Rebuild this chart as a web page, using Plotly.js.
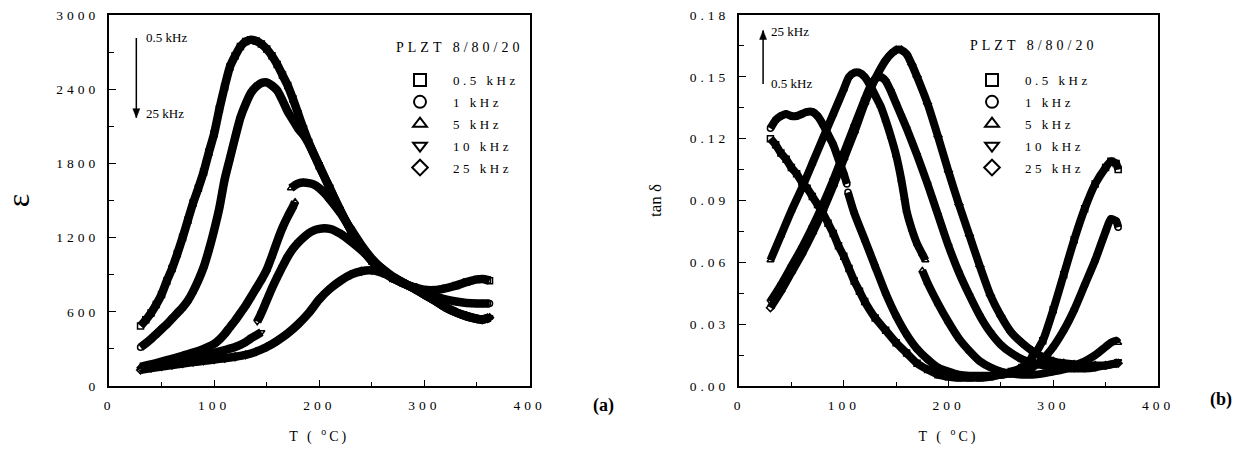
<!DOCTYPE html>
<html>
<head>
<meta charset="utf-8">
<script src="https://cdn.plot.ly/plotly-3.0.1.min.js"></script>
<style>
  html, body { margin: 0; padding: 0; background: #fff; }
  #chart { width: 1247px; height: 450px; }
  .xtick text, .x2tick text, .ytick text, .y2tick text { letter-spacing: 4px; }
  text[class^="legend"] { letter-spacing: 3.5px !important; }
  .xtitle, .x2title { letter-spacing: 3px; }
  .annotation[data-index="0"] text, .annotation[data-index="1"] text { letter-spacing: 4px; }
</style>
</head>
<body>
<div id="chart"></div>
<script>
// ---------- DATA ----------
const seriesNames = ['0.5 kHz', '1 kHz', '5 kHz', '10 kHz', '25 kHz'];
const seriesSymbols = ['square-open', 'circle-open', 'triangle-up-open', 'triangle-down-open', 'diamond-open'];

// (a) dielectric constant vs T
const epsT05 = [30,35,40,45,50,55,60,65,70,75,80,85,90,95,100,105,110,115,120,125,130,135,140,145,150,155,160,165,170,175,180,185,190,200,210,220,230,240,250,260,270,280,290,300,310,320,330,340,350,355,360,362];
const eps05  = [485,535,590,660,740,850,950,1070,1200,1340,1480,1600,1730,1890,2040,2240,2420,2580,2670,2745,2785,2800,2790,2765,2725,2670,2600,2515,2430,2320,2200,2080,1970,1780,1600,1420,1260,1120,1010,930,870,830,800,778,776,790,812,840,862,866,858,852];

const epsT1 = [30,35,40,45,50,55,60,65,70,75,80,85,90,95,100,105,110,115,120,125,130,135,140,145,150,155,160,165,170,175,180,185,190,200,210,220,230,240,250,260,270,280,290,300,310,320,330,340,350,355,360,362];
const eps1  = [313,345,380,420,460,500,545,590,635,690,765,855,960,1100,1260,1440,1670,1840,2010,2170,2280,2370,2420,2450,2455,2430,2390,2310,2220,2150,2080,2030,1960,1780,1600,1420,1260,1120,1010,930,870,830,792,755,725,700,683,672,668,668,668,668];

const epsT5 = [30,40,50,60,70,80,90,100,105,110,115,120,125,130,135,140,145,150,155,160,165,170,175,177,null,173,177,180,185,190,195,200,205,210,220,230,240,250,260,270,280,290,300,310,320,330,340,350,355,360,362];
const eps5  = [155,175,197,220,245,270,300,340,375,420,475,530,590,650,720,790,860,940,1050,1170,1280,1370,1450,1490,null,1600,1625,1638,1645,1640,1628,1600,1560,1510,1400,1270,1140,1030,945,880,830,790,740,690,635,595,563,543,538,548,555];

const epsT10 = [30,40,50,60,70,80,90,100,110,120,130,135,140,145,null,141,145,150,155,160,165,170,175,180,185,190,195,200,205,210,215,220,230,240,250,260,270,280,290,300,310,320,330,340,350,355,360,362];
const eps10  = [140,158,176,195,213,232,250,268,290,315,355,385,410,435,null,520,590,690,790,880,965,1045,1110,1160,1200,1235,1258,1270,1275,1270,1255,1232,1170,1100,1020,950,885,835,788,740,690,637,596,565,544,538,549,556];

const epsT25 = [30,40,50,60,70,80,90,100,110,120,130,140,150,160,170,180,190,200,210,220,230,240,250,260,270,280,290,300,310,320,330,340,350,355,360,362];
const eps25  = [130,145,158,170,182,193,204,214,225,237,252,278,315,365,425,500,590,700,785,850,900,928,935,915,880,835,790,740,690,640,598,567,543,536,546,553];

// (b) loss tangent vs T
const tanT05 = [30,35,40,45,50,55,60,65,70,75,80,85,90,95,100,105,110,115,120,130,140,150,160,170,180,190,200,210,220,230,240,250,260,270,280,290,300,310,320,330,340,350,355,360,362];
const tan05  = [0.120,0.117,0.113,0.110,0.106,0.103,0.099,0.096,0.092,0.088,0.084,0.079,0.074,0.068,0.063,0.057,0.051,0.046,0.041,0.033,0.027,0.021,0.016,0.011,0.008,0.0055,0.0045,0.004,0.004,0.004,0.0045,0.0055,0.007,0.009,0.014,0.022,0.037,0.054,0.071,0.086,0.098,0.106,0.109,0.108,0.105];

const tanT1 = [30,35,40,45,50,55,60,65,70,75,80,85,90,95,100,103,null,104,110,120,130,140,150,160,170,180,190,200,210,220,230,240,250,260,270,280,290,300,310,320,330,340,350,355,360,362];
const tan1  = [0.125,0.129,0.131,0.132,0.131,0.131,0.132,0.133,0.133,0.131,0.127,0.122,0.117,0.110,0.103,0.098,null,0.094,0.084,0.071,0.058,0.045,0.034,0.025,0.018,0.013,0.009,0.007,0.0055,0.005,0.005,0.005,0.0055,0.006,0.007,0.009,0.013,0.019,0.027,0.037,0.049,0.061,0.075,0.081,0.080,0.077];

const tanT5 = [30,40,50,60,70,80,90,100,105,110,115,120,125,130,135,140,145,150,155,158,160,165,170,175,178,null,175,180,190,200,210,220,230,240,250,260,270,280,290,300,310,320,330,340,350,355,360,362];
const tan5  = [0.061,0.073,0.085,0.096,0.108,0.120,0.132,0.144,0.150,0.152,0.152,0.150,0.146,0.141,0.136,0.129,0.121,0.112,0.100,0.091,0.085,0.076,0.069,0.064,0.061,null,0.056,0.050,0.040,0.031,0.023,0.017,0.012,0.009,0.007,0.006,0.0055,0.0055,0.006,0.007,0.008,0.010,0.012,0.015,0.019,0.021,0.022,0.021];

const tanT10 = [30,40,50,60,70,80,90,100,110,120,125,130,135,140,145,150,155,160,170,180,190,200,210,220,230,240,250,260,270,280,290,300,310,320,330,340,350,360,362];
const tan10  = [0.041,0.049,0.058,0.067,0.077,0.088,0.100,0.113,0.126,0.139,0.145,0.149,0.150,0.148,0.143,0.137,0.131,0.125,0.112,0.098,0.083,0.068,0.055,0.044,0.034,0.026,0.020,0.016,0.013,0.011,0.010,0.009,0.0085,0.0085,0.0085,0.009,0.010,0.011,0.012];

const tanT25 = [30,40,50,60,70,80,90,100,110,120,130,140,145,150,155,160,165,170,180,190,200,210,220,230,240,250,260,270,280,290,300,310,320,330,340,350,360,362];
const tan25  = [0.038,0.046,0.055,0.064,0.074,0.085,0.097,0.110,0.123,0.137,0.149,0.158,0.161,0.163,0.163,0.161,0.156,0.150,0.137,0.121,0.104,0.088,0.073,0.058,0.044,0.034,0.026,0.021,0.017,0.014,0.012,0.011,0.0105,0.010,0.010,0.010,0.011,0.011];

const xTicksT = [0, 100, 200, 300, 400];
const epsTicks = [0, 600, 1200, 1800, 2400, 3000];
const tanTicks = [0, 0.03, 0.06, 0.09, 0.12, 0.15, 0.18];
const sampleLabel = 'PLZT 8/80/20';
const arrowLabelsA = ['0.5 kHz', '25 kHz'];
const arrowLabelsB = ['25 kHz', '0.5 kHz'];
const panelLabels = ['(a)', '(b)'];

// ---------- BUILD ----------
const FONT = 'Liberation Serif, Times New Roman, serif';
const epsX = [epsT05, epsT1, epsT5, epsT10, epsT25];
const epsY = [eps05, eps1, eps5, eps10, eps25];
const tanX = [tanT05, tanT1, tanT5, tanT10, tanT25];
const tanY = [tan05, tan1, tan5, tan10, tan25];

const traces = [];
function addSeries(xs, ys, i, xa, ya, leg, lw) {
  traces.push({
    x: xs, y: ys, xaxis: xa, yaxis: ya, type: 'scatter', mode: 'lines',
    line: { color: '#000', width: lw, shape: 'spline', smoothing: 0.6 },
    connectgaps: false, showlegend: false, hoverinfo: 'skip'
  });
  traces.push({
    x: xs, y: ys, xaxis: xa, yaxis: ya, type: 'scatter', mode: 'markers',
    name: seriesNames[i], legend: leg, legendgroup: leg + i,
    marker: { symbol: seriesSymbols[i], size: 6, color: '#000', line: { width: 1.5, color: '#000' } }
  });
}
for (let i = 0; i < 5; i++) addSeries(epsX[i], epsY[i], i, 'x', 'y', 'legend', 8.5);
for (let i = 0; i < 5; i++) addSeries(tanX[i], tanY[i], i, 'x2', 'y2', 'legend2', 8);

const ML = 109, MR = 89, MT = 15, MB = 64, W = 1247, H = 450;
const PW = W - ML - MR, PH = H - MT - MB;
const px2x = p => (p - ML) / PW;
const py2y = p => (H - MB - p) / PH;

function xAxis(domain, anchor) {
  return {
    domain: domain, anchor: anchor, range: [0, 400],
    tickvals: xTicksT, ticktext: xTicksT.map(String),
    ticks: 'inside', ticklen: 6, tickwidth: 1, tickcolor: '#000',
    minor: { dtick: 50, ticks: 'inside', ticklen: 4, tickwidth: 1, tickcolor: '#000', showgrid: false },
    showline: true, linewidth: 2, linecolor: '#000', mirror: true,
    showgrid: false, zeroline: false, ticklabelstandoff: 6,
    tickfont: { family: FONT, size: 13.5, color: '#000' },
    title: { text: 'T ( <sup>o</sup>C)', font: { family: FONT, size: 14, color: '#000' }, standoff: 19 }
  };
}
function yAxis(anchor, range, vals, texts, minorStep, title, tsize, standoff) {
  return {
    anchor: anchor, range: range, domain: [0, 1],
    tickvals: vals, ticktext: texts,
    ticks: 'inside', ticklen: 7, tickwidth: 1, tickcolor: '#000',
    minor: { dtick: minorStep, ticks: 'inside', ticklen: 5, tickwidth: 1, tickcolor: '#000', showgrid: false },
    showline: true, linewidth: 2, linecolor: '#000', mirror: true,
    showgrid: false, zeroline: false, ticklabelstandoff: 5,
    tickfont: { family: FONT, size: 13.5, color: '#000' },
    title: { text: title, font: { family: FONT, size: tsize, color: '#000' }, standoff: standoff }
  };
}

const dom1 = [0, (529.5 - ML) / PW];
const dom2 = [(739 - ML) / PW, 1];

const legendCommon = {
  font: { family: FONT, size: 13, color: '#000' },
  bgcolor: 'rgba(0,0,0,0)', borderwidth: 0,
  itemwidth: 56, tracegroupgap: 2, traceorder: 'grouped', itemsizing: 'constant',
  xanchor: 'left', yanchor: 'top', itemclick: false, itemdoubleclick: false
};

// arrows drawn as shapes: a shaft plus a small filled head (pixel sized, anchored at the tip)
function arrowShapes(xa, ya, xT, yTail, yTip, dirUp) {
  const head = dirUp ? 'M -3.5 -9 L 3.5 -9 L 0 0 Z' : 'M -3.5 9 L 3.5 9 L 0 0 Z';
  return [
    { type: 'line', xref: xa, yref: ya, x0: xT, x1: xT, y0: yTail, y1: yTip, line: { color: '#000', width: 1.5 } },
    { type: 'path', xref: xa, yref: ya, xsizemode: 'pixel', ysizemode: 'pixel', xanchor: xT, yanchor: yTip,
      path: head, fillcolor: '#000', line: { color: '#000', width: 0.5 } }
  ];
}

const annFont = { family: FONT, size: 13, color: '#000' };
const layout = {
  width: W, height: H,
  margin: { l: ML, r: MR, t: MT, b: MB, pad: 0 },
  paper_bgcolor: '#fff', plot_bgcolor: '#fff',
  font: { family: FONT, color: '#000' },
  xaxis: xAxis(dom1, 'y'),
  yaxis: yAxis('x', [0, 3000], epsTicks, epsTicks.map(String), 300, 'ε', 32, 24),
  xaxis2: xAxis(dom2, 'y2'),
  yaxis2: yAxis('x2', [0, 0.18], tanTicks, tanTicks.map(v => v.toFixed(2)), 0.015, 'tan δ', 17, 24),
  legend: Object.assign({}, legendCommon, { x: px2x(387), y: py2y(65) }),
  legend2: Object.assign({}, legendCommon, { x: px2x(959), y: py2y(65) }),
  showlegend: true,
  shapes: [].concat(
    arrowShapes('x', 'y', 26, 2815, 2170, false),
    arrowShapes('x2', 'y2', 23, 0.1465, 0.1725, true)
  ),
  annotations: [
    { xref: 'x', yref: 'y', x: 333, y: 2740, text: sampleLabel, showarrow: false, font: { family: FONT, size: 14, color: '#000' } },
    { xref: 'x2', yref: 'y2', x: 281.6, y: 0.165, text: sampleLabel, showarrow: false, font: { family: FONT, size: 14, color: '#000' } },
    { xref: 'x', yref: 'y', x: 33, y: 2815, text: arrowLabelsA[0], showarrow: false, xanchor: 'left', font: annFont },
    { xref: 'x', yref: 'y', x: 33, y: 2200, text: arrowLabelsA[1], showarrow: false, xanchor: 'left', font: annFont },
    { xref: 'x2', yref: 'y2', x: 28.6, y: 0.172, text: arrowLabelsB[0], showarrow: false, xanchor: 'left', font: annFont },
    { xref: 'x2', yref: 'y2', x: 28.6, y: 0.1468, text: arrowLabelsB[1], showarrow: false, xanchor: 'left', font: annFont },
    { xref: 'paper', yref: 'paper', x: px2x(603), y: py2y(418), text: '<b>' + panelLabels[0] + '</b>', showarrow: false,
      font: { family: FONT, size: 18, color: '#000' } },
    { xref: 'paper', yref: 'paper', x: px2x(1234), y: py2y(412), text: '<b>' + panelLabels[1] + '</b>', showarrow: false,
      font: { family: FONT, size: 18, color: '#000' } }
  ]
};

function finishStyling() {
  document.querySelectorAll('#chart .legend text, #chart .legend2 text, #chart text[class^="legend"]').forEach(t => {
    t.style.letterSpacing = '3.5px';
  });
  // drop empty placeholder text nodes that Plotly leaves behind (they draw nothing)
  document.querySelectorAll('#chart text').forEach(t => {
    if (!t.textContent || !t.textContent.trim()) t.remove();
  });
}
const gd = document.getElementById('chart');
Plotly.newPlot(gd, traces, layout, { displayModeBar: false, responsive: false }).then(() => {
  finishStyling();
  gd.on('plotly_afterplot', finishStyling);
});
</script>
</body>
</html>
